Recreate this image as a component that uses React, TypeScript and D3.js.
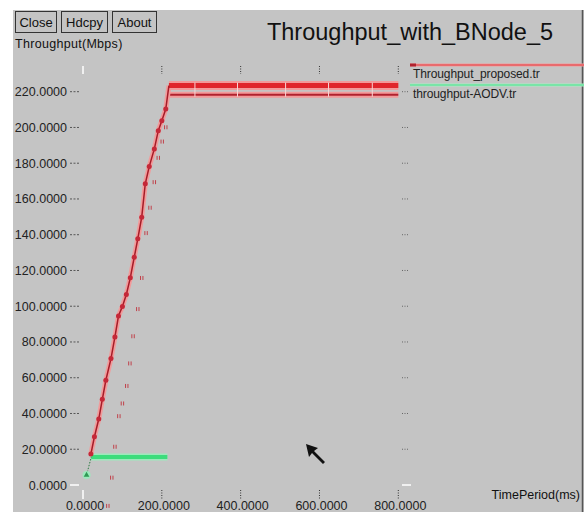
import React, { useEffect, useRef } from 'react';
import * as d3 from 'd3';

// throughput values
const proposedTime = [20, 29, 40, 49, 58, 71, 81, 90, 100, 110, 120, 130, 139, 149, 158, 168, 181, 191, 200, 210, 218, 800];
const proposedValue = [17.3, 27, 36.9, 47.9, 58.6, 70.7, 82.8, 94.5, 99.9, 106.6, 115.9, 127.4, 137.7, 149.8, 168.5, 178.1, 188, 198.2, 203.8, 210.3, 223.4, 223.4];
const proposedJoints = [284, 392, 514, 623, 734];

const rawTime = [63, 73, 81, 91, 100, 111, 119, 127, 139, 149, 160, 170, 181, 191, 201, 210];
const rawValue = [-11.7, 4.1, 21.4, 38.5, 45.6, 55.4, 68, 83.2, 98.4, 115.8, 140.9, 155.1, 169.4, 183, 192.1, 200.1];
const rawFlatTime = [218, 800];
const rawFlatValue = [218.3, 218.3];

const aodvTime = [9, 21, 214];
const aodvValue = [5.6, 15.6, 15.6];

const xTicks = [0, 200, 400, 600, 800];
const yTicks = [0, 20, 40, 60, 80, 100, 120, 140, 160, 180, 200, 220];
const buttons = ['Close', 'Hdcpy', 'About'];
const legendNames = ['Throughput_proposed.tr', 'throughput-AODV.tr'];

const W = 584, H = 512;
const font = '"Liberation Sans", Arial, sans-serif';

const App = () => {
  const ref = useRef(null);

  useEffect(() => {
    const svg = d3.select(ref.current);
    svg.selectAll('*').remove();

    const x = d3.scaleLinear().domain([0, 800]).range([83, 398.3]);
    const y = d3.scaleLinear().domain([0, 220]).range([485, 91.7]);

    // window background
    svg.append('rect').attr('width', W).attr('height', H).attr('fill', '#fff');
    svg.append('rect').attr('x', 13).attr('y', 10).attr('width', W - 13).attr('height', H - 10).attr('fill', '#c4c4c4');
    svg.append('line').attr('x1', 582.5).attr('x2', 582.5).attr('y1', 10).attr('y2', H)
      .attr('stroke', '#555').attr('stroke-width', 1.5);

    // buttons
    const bw = [41, 46, 44];
    let bx = 15;
    buttons.forEach((b, i) => {
      svg.append('rect').attr('x', bx + 0.5).attr('y', 11.5).attr('width', bw[i]).attr('height', 21)
        .attr('fill', 'none').attr('stroke', '#333');
      svg.append('text').attr('x', bx + bw[i] / 2 + 0.5).attr('y', 27).attr('text-anchor', 'middle')
        .attr('font-family', font).attr('font-size', 13).attr('fill', '#111').text(b);
      bx += bw[i] + 5;
    });

    svg.append('text').attr('x', 410).attr('y', 40).attr('text-anchor', 'middle')
      .attr('font-family', font).attr('font-size', 23.5).attr('fill', '#111').text('Throughput_with_BNode_5');
    svg.append('text').attr('x', 15).attr('y', 48)
      .attr('font-family', font).attr('font-size', 12.5).attr('letter-spacing', 0.3).attr('fill', '#111').text('Throughput(Mbps)');
    svg.append('text').attr('x', 580).attr('y', 499).attr('text-anchor', 'end')
      .attr('font-family', font).attr('font-size', 12.5).attr('fill', '#111').text('TimePeriod(ms)');

    // y ticks
    yTicks.forEach(v => {
      svg.append('text').attr('x', 67).attr('y', y(v) + 4.5).attr('text-anchor', 'end')
        .attr('font-family', font).attr('font-size', 12.5).attr('fill', '#222').text(v.toFixed(4));
      const zero = v === 0;
      svg.append('line').attr('x1', 70).attr('x2', 79).attr('y1', y(v)).attr('y2', y(v))
        .attr('stroke', zero ? '#fff' : '#555').attr('stroke-width', zero ? 1.5 : 1)
        .attr('stroke-dasharray', zero ? null : '2,1.5');
      svg.append('line').attr('x1', 402).attr('x2', zero ? 411 : 408).attr('y1', y(v)).attr('y2', y(v))
        .attr('stroke', zero ? '#fff' : '#666').attr('stroke-width', zero ? 1.5 : 1)
        .attr('stroke-dasharray', zero ? null : '1,1.5');
    });

    // x ticks
    xTicks.forEach(t => {
      svg.append('text').attr('x', x(t) + 2).attr('y', 510).attr('text-anchor', 'middle')
        .attr('font-family', font).attr('font-size', 12.5).attr('fill', '#222').text(t.toFixed(4));
      const zero = t === 0;
      [[66, 74], [490, 499]].forEach(([a, b]) => {
        svg.append('line').attr('x1', x(t)).attr('x2', x(t)).attr('y1', a).attr('y2', b)
          .attr('stroke', zero ? '#fff' : '#333').attr('stroke-width', zero ? 1.5 : 1)
          .attr('stroke-dasharray', zero ? null : '1,1.5');
      });
    });

    const line = d3.line().x(d => x(d[0])).y(d => y(d[1]));

    // AODV series
    const aodv = aodvTime.map((t, i) => [t, aodvValue[i]]);
    svg.append('path').attr('d', line(aodv.slice(1))).attr('fill', 'none')
      .attr('stroke', '#9ce9bc').attr('stroke-width', 7);
    svg.append('path').attr('d', line(aodv.slice(1))).attr('fill', 'none')
      .attr('stroke', '#3ddc7c').attr('stroke-width', 4);
    svg.append('path').attr('d', line(aodv.slice(0, 2))).attr('fill', 'none')
      .attr('stroke', '#2a7a40').attr('stroke-width', 1).attr('stroke-dasharray', '1.5,1.5');
    svg.append('circle').attr('cx', x(aodv[0][0])).attr('cy', y(aodv[0][1])).attr('r', 4).attr('fill', '#9ce9bc');
    svg.append('path').attr('d', d3.symbol(d3.symbolTriangle, 14)())
      .attr('transform', `translate(${x(aodv[0][0])},${y(aodv[0][1])})`).attr('fill', '#2f9a55');

    // proposed: second set, markers and flat line
    const rawFlat = rawFlatTime.map((t, i) => [t, rawFlatValue[i]]);
    svg.append('path').attr('d', line(rawFlat)).attr('fill', 'none').attr('stroke', '#f29a9a').attr('stroke-width', 6);
    svg.append('path').attr('d', line(rawFlat)).attr('fill', 'none').attr('stroke', '#b0222e').attr('stroke-width', 2);
    rawTime.forEach((t, i) => {
      const cx = x(t), cy = y(rawValue[i]);
      [-1.2, 1.2].forEach(dx => {
        svg.append('line').attr('x1', cx + dx).attr('x2', cx + dx).attr('y1', cy - 2).attr('y2', cy + 2)
          .attr('stroke', '#c0404a').attr('stroke-width', 1);
      });
    });

    // proposed: main set
    const prop = proposedTime.map((t, i) => [t, proposedValue[i]]);
    const rise = prop.slice(0, prop.length - 1);
    const flat = prop.slice(prop.length - 2);
    svg.append('path').attr('d', line(rise)).attr('fill', 'none').attr('stroke', '#f29a9a').attr('stroke-width', 5);
    svg.append('path').attr('d', line(flat)).attr('fill', 'none').attr('stroke', '#f29a9a').attr('stroke-width', 9);
    svg.append('path').attr('d', line(flat)).attr('fill', 'none').attr('stroke', '#e0262c').attr('stroke-width', 5);
    svg.append('path').attr('d', line(rise)).attr('fill', 'none').attr('stroke', '#a61c28').attr('stroke-width', 1.5);
    rise.slice(0, rise.length - 1).forEach(d => {
      svg.append('circle').attr('cx', x(d[0])).attr('cy', y(d[1])).attr('r', 2.5).attr('fill', '#c42838');
    });
    proposedJoints.forEach(t => {
      svg.append('line').attr('x1', x(t)).attr('x2', x(t)).attr('y1', y(223.4) - 3).attr('y2', y(218.3) + 2)
        .attr('stroke', '#f6d6d6').attr('stroke-width', 1);
    });

    // legend
    const legendColors = [['#f29a9a', '#e03a40'], ['#a8ecc4', '#4ade8a']];
    legendNames.forEach((name, i) => {
      const ly = 65 + i * 20;
      svg.append('line').attr('x1', 410).attr('x2', 584).attr('y1', ly).attr('y2', ly)
        .attr('stroke', legendColors[i][0]).attr('stroke-width', 3);
      svg.append('line').attr('x1', 410).attr('x2', 584).attr('y1', ly).attr('y2', ly)
        .attr('stroke', legendColors[i][1]).attr('stroke-width', 1);
      if (i === 0) {
        svg.append('line').attr('x1', 410).attr('x2', 416).attr('y1', ly).attr('y2', ly)
          .attr('stroke', '#b0222e').attr('stroke-width', 3);
      }
      svg.append('text').attr('x', 413).attr('y', ly + 13).attr('font-family', font)
        .attr('font-size', 12).attr('letter-spacing', -0.1).attr('fill', '#222').text(name);
    });

    // mouse pointer left in the screenshot
    svg.append('path').attr('d', 'M306,444 L309,457 L312,453 L323,464 L325,462 L314,451 L318,448 Z')
      .attr('fill', '#111');
  }, []);

  return <svg ref={ref} width={W} height={H} style={{ position: 'absolute', left: 0, top: 0 }}></svg>;
};

export default App;
